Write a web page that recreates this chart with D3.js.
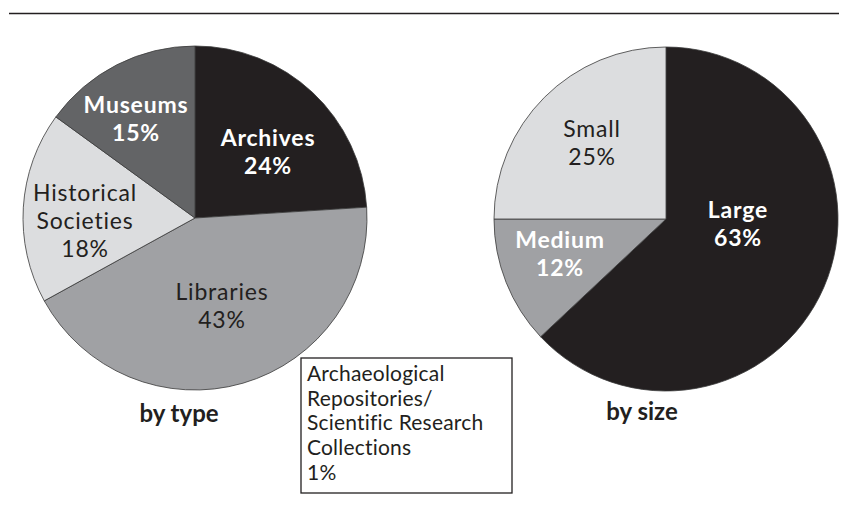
<!DOCTYPE html>
<html>
<head>
<meta charset="utf-8">
<script src="https://cdn.jsdelivr.net/npm/d3@7"></script>
<style>
  html, body { margin: 0; padding: 0; background: #fff; }
  svg { display: block; font-family: Lato, "Open Sans", sans-serif; }
</style>
</head>
<body>
<svg id="chart" width="850" height="506"></svg>
<script>
// Repository shares by type
const typeNames = [["Archives", "24%"], ["Libraries", "43%"], ["Historical", "Societies", "18%"], ["Museums", "15%"]];
const typeValues = [24, 43, 18, 15];
const typeColors = ["#231f20", "#a0a1a4", "#dcdddf", "#636466"];
const typeBold = [true, false, false, true];

// Repository shares by size
const sizeNames = [["Large", "63%"], ["Medium", "12%"], ["Small", "25%"]];
const sizeValues = [63, 12, 25];
const sizeColors = ["#231f20", "#a0a1a4", "#dcdddf"];
const sizeBold = [true, true, false];

// Tiny slice that only gets a callout box
const calloutLines = ["Archaeological", "Repositories/", "Scientific Research", "Collections", "1%"];

const svg = d3.select("#chart");

// rule across the top
svg.append("line")
  .attr("x1", 9).attr("x2", 839)
  .attr("y1", 13.5).attr("y2", 13.5)
  .attr("stroke", "#231f20")
  .attr("stroke-width", 1.4);

const radius = 172;
const pie = d3.pie().sort(null).value(d => d);
const arc = d3.arc().innerRadius(0).outerRadius(radius);

// label position per slice, relative to the pie centre (x, first baseline)
const typeLabelPos = [[73, -72], [27, 82], [-110, -17], [-59, -105]];
const sizeLabelPos = [[72, -1], [-106, 29], [-74, -82]];

function drawPie(cx, cy, values, names, colors, bold, labelPos, title, titleX, titleY) {
  const g = svg.append("g").attr("transform", `translate(${cx},${cy})`);
  const arcs = pie(values);

  g.selectAll("path")
    .data(arcs)
    .enter()
    .append("path")
    .attr("d", arc)
    .attr("fill", (d, i) => colors[i])
    .attr("stroke", "#3a3a3a")
    .attr("stroke-width", 0.8)
    .attr("stroke-linejoin", "round");

  arcs.forEach((d, i) => {
    const t = g.append("text")
      .attr("text-anchor", "middle")
      .attr("x", labelPos[i][0])
      .attr("y", labelPos[i][1])
      .style("font-size", "23px")
      .style("letter-spacing", "0.8px")
      .style("font-weight", bold[i] ? 700 : 400)
      .attr("fill", bold[i] ? "#ffffff" : "#231f20");
    names[i].forEach((line, j) => {
      t.append("tspan")
        .attr("x", labelPos[i][0])
        .attr("dy", j === 0 ? 0 : 28)
        .text(line);
    });
  });

  svg.append("text")
    .attr("x", titleX)
    .attr("y", titleY)
    .attr("text-anchor", "middle")
    .style("font-size", "24px")
    .style("font-weight", 700)
    .attr("fill", "#231f20")
    .text(title);
}

drawPie(195, 218, typeValues, typeNames, typeColors, typeBold, typeLabelPos, "by type", 179, 422);
drawPie(666, 219, sizeValues, sizeNames, sizeColors, sizeBold, sizeLabelPos, "by size", 642, 420);

// callout box
const box = svg.append("g").attr("transform", "translate(301,358)");
box.append("rect")
  .attr("width", 211).attr("height", 135)
  .attr("fill", "#fff")
  .attr("stroke", "#231f20")
  .attr("stroke-width", 1.3);
const bt = box.append("text")
  .attr("fill", "#231f20")
  .style("font-size", "21px")
  .style("letter-spacing", "0.2px");
calloutLines.forEach((line, j) => {
  bt.append("tspan")
    .attr("x", 6)
    .attr("y", 23 + j * 24.7)
    .text(line);
});
</script>
</body>
</html>
